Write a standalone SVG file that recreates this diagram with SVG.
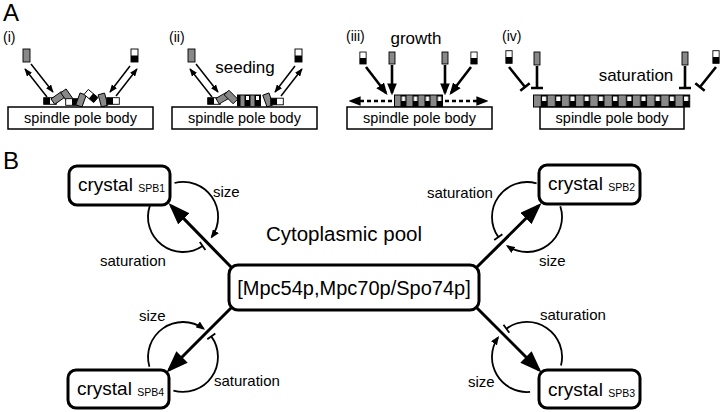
<svg xmlns="http://www.w3.org/2000/svg" xmlns:xlink="http://www.w3.org/1999/xlink" width="720" height="412" viewBox="0 0 720 412">
<style>
text{font-family:"Liberation Sans",Arial,Helvetica,sans-serif;fill:#000}
.pl{font-size:24px}
.sl{font-size:14px}
.spb{font-size:14.5px;text-anchor:middle}
.lab{font-size:17px;text-anchor:middle}
.box{fill:#fff;stroke:#000;stroke-width:1.5}
.thin{stroke:#000;stroke-width:1.5;fill:none}
.thick{stroke:#000;stroke-width:2.6;fill:none}
.dash{stroke:#000;stroke-width:2.6;fill:none;stroke-dasharray:4 3}
.node{fill:#fff;stroke:#000;stroke-width:3}
.nt{font-size:19px}
.sub{font-size:10.5px}
.main{stroke:#000;stroke-width:3;fill:none}
.arc{stroke:#000;stroke-width:1.8;fill:none}
.al{font-size:15px}
.gr{fill:#888;stroke:#000;stroke-width:0.9}
</style>
<defs>
<g id="gv"><rect x="-3.3" y="-6.3" width="6.6" height="12.6" class="gr"/></g>
<g id="bwv"><rect x="-3.3" y="-6.3" width="6.6" height="12.6" fill="#fff" stroke="#000" stroke-width="0.9"/><rect x="-3.3" y="0" width="6.6" height="6.3" fill="#000"/></g>
<pattern id="cr3" x="394.5" y="95" width="12" height="12" patternUnits="userSpaceOnUse"><rect width="6" height="12" fill="#888"/><rect x="6" width="6" height="12" fill="#000"/><rect x="7.3" y="1.5" width="3.4" height="4.5" fill="#fff"/></pattern>
<pattern id="cr4" x="533.5" y="95" width="14.2" height="12" patternUnits="userSpaceOnUse"><rect width="7.1" height="12" fill="#888"/><rect x="7.1" width="7.1" height="12" fill="#000"/><rect x="8.6" y="1.5" width="4.1" height="4.5" fill="#fff"/></pattern>
<marker id="mThin" viewBox="0 0 10 8" refX="9" refY="4" markerWidth="8" markerHeight="6.4" markerUnits="userSpaceOnUse" orient="auto"><path d="M0,0 L10,4 L0,8 z" fill="#000"/></marker>
<marker id="mMid" viewBox="0 0 10 8" refX="8" refY="4" markerWidth="12" markerHeight="9.6" markerUnits="userSpaceOnUse" orient="auto"><path d="M0,0 L10,4 L0,8 z" fill="#000"/></marker>
<marker id="mBig" viewBox="0 0 22 16" refX="18" refY="8" markerWidth="22" markerHeight="16" markerUnits="userSpaceOnUse" orient="auto"><path d="M0,0 L22,8 L0,16 z" fill="#000"/></marker>
<marker id="mSm" viewBox="0 0 10 8" refX="8" refY="4" markerWidth="9" markerHeight="7.2" markerUnits="userSpaceOnUse" orient="auto"><path d="M0,0 L10,4 L0,8 z" fill="#000"/></marker>
</defs>

<g id="panelA">
<text class="pl" x="3" y="21">A</text>

<g id="stage-i">
<text class="sl" x="3" y="42">(i)</text>
<rect class="gr" x="23" y="49" width="7" height="13"/>
<use href="#bwv" transform="translate(134.5,55.5) scale(1.06,1.03)"/>
<path class="thin" d="M47,97 L25,69" marker-end="url(#mThin)"/>
<path class="thin" d="M31,64 L53,92" marker-end="url(#mThin)"/>
<path class="thin" d="M130,66 L110,92" marker-end="url(#mThin)"/>
<path class="thin" d="M116,96 L137,69" marker-end="url(#mThin)"/>
<use href="#bwv" transform="translate(50,101) rotate(90)"/>
<use href="#gv" transform="translate(58,98) rotate(55)"/>
<use href="#gv" transform="translate(67,96) rotate(-35)"/>
<use href="#bwv" transform="translate(72,102) rotate(-90)"/>
<use href="#gv" transform="translate(81,100) rotate(20)"/>
<use href="#bwv" transform="translate(91,96) rotate(-50)"/>
<use href="#gv" transform="translate(103,100) rotate(-15)"/>
<use href="#bwv" transform="translate(113,101) rotate(90)"/>
<rect class="box" x="8" y="107" width="145" height="22"/>
<text class="spb" x="80.5" y="123">spindle pole body</text>
</g>

<g id="stage-ii">
<text class="sl" x="169" y="42">(ii)</text>
<rect class="gr" x="188" y="49" width="7" height="13"/>
<use href="#bwv" transform="translate(298.5,55.5) scale(1.06,1.03)"/>
<text class="lab" x="245" y="73">seeding</text>
<path class="thin" d="M212,97 L190,69" marker-end="url(#mThin)"/>
<path class="thin" d="M196,64 L218,92" marker-end="url(#mThin)"/>
<path class="thin" d="M295,66 L275,92" marker-end="url(#mThin)"/>
<path class="thin" d="M281,96 L302,69" marker-end="url(#mThin)"/>
<use href="#bwv" transform="translate(214,101) rotate(90)"/>
<use href="#gv" transform="translate(223,98) rotate(60)"/>
<use href="#gv" transform="translate(231,97) rotate(-45)"/>
<rect x="237" y="94.5" width="24" height="12" fill="#000"/>
<rect x="240.5" y="95.5" width="4" height="10.5" fill="#888"/>
<rect x="246" y="96" width="3" height="4" fill="#fff"/>
<rect x="250.5" y="95.5" width="4" height="10.5" fill="#888"/>
<rect x="256" y="96" width="3" height="4" fill="#fff"/>
<use href="#gv" transform="translate(268,100) rotate(-20)"/>
<use href="#bwv" transform="translate(277,101.5) rotate(90)"/>
<rect class="box" x="172" y="107" width="145" height="22"/>
<text class="spb" x="244.5" y="123">spindle pole body</text>
</g>

<g id="stage-iii">
<text class="sl" x="346" y="41">(iii)</text>
<text class="lab" x="416" y="44">growth</text>
<use href="#bwv" transform="translate(363,58) scale(0.95,0.95)"/>
<rect class="gr" x="389" y="52" width="6" height="12"/>
<rect class="gr" x="442" y="52" width="6" height="12"/>
<use href="#bwv" transform="translate(474,58) scale(0.95,0.95)"/>
<path class="thick" d="M366,67 L386,93" marker-end="url(#mMid)"/>
<path class="thick" d="M392,65 L392,93" marker-end="url(#mMid)"/>
<path class="thick" d="M445,65 L445,93" marker-end="url(#mMid)"/>
<path class="thick" d="M471,67 L451,93" marker-end="url(#mMid)"/>
<path class="dash" d="M392,101 L351,101" marker-end="url(#mMid)"/>
<path class="dash" d="M445,101 L486,101" marker-end="url(#mMid)"/>
<rect x="394.5" y="95" width="48" height="12" fill="url(#cr3)" stroke="#000" stroke-width="1"/>
<rect class="box" x="347" y="107" width="145" height="22"/>
<text class="spb" x="419.5" y="123">spindle pole body</text>
</g>

<g id="stage-iv">
<text class="sl" x="502" y="41">(iv)</text>
<text class="lab" x="636" y="81">saturation</text>
<use href="#bwv" transform="translate(509,57) scale(0.95,1)"/>
<rect class="gr" x="534" y="52" width="6" height="13"/>
<rect class="gr" x="682" y="52" width="6" height="13"/>
<use href="#bwv" transform="translate(716,57) scale(0.95,1)"/>
<path class="thick" d="M509,67 L525,87 M520.3,90.7 L529.7,83.3"/>
<path class="thick" d="M537,66 L537,88 M531,88 L543,88"/>
<path class="thick" d="M685,66 L685,88 M679,88 L691,88"/>
<path class="thick" d="M716,67 L700,87 M695.3,83.3 L704.7,90.7"/>
<rect x="533.5" y="95" width="156.2" height="12" fill="url(#cr4)" stroke="#000" stroke-width="1"/>
<rect class="box" x="540" y="107" width="144" height="22"/>
<text class="spb" x="612" y="123">spindle pole body</text>
</g>
</g>

<g id="panelB">
<text class="pl" x="3" y="169">B</text>

<g id="connectors">
<path class="main" d="M231.5,267.5 L171.3,205.9" marker-end="url(#mBig)"/>
<path class="main" d="M476.5,267.5 L538.7,205.8" marker-end="url(#mBig)"/>
<path class="main" d="M231.5,307.5 L169.3,369.7" marker-end="url(#mBig)"/>
<path class="main" d="M476.5,307.5 L538.7,369.7" marker-end="url(#mBig)"/>

<path class="arc" d="M174.5,183 A35,35 0 0 1 211.7,237.1" marker-end="url(#mSm)"/>
<path class="arc" d="M149.9,205.6 A35,35 0 0 0 202.6,246 M199.8,241.9 L205.4,250.1"/>
<text class="al" x="213" y="197">size</text>
<text class="al" x="100" y="266">saturation</text>

<path class="arc" d="M536.6,183.4 A35,35 0 0 0 498.3,237.1 M494.2,240 L502.4,234.2"/>
<path class="arc" d="M560.3,206.2 A35,35 0 0 1 507.4,246" marker-end="url(#mSm)"/>
<text class="al" x="427" y="198">saturation</text>
<text class="al" x="539" y="266">size</text>

<path class="arc" d="M149.4,366.7 A35,35 0 0 1 203.6,328.7" marker-end="url(#mSm)"/>
<path class="arc" d="M173.4,390.6 A35,35 0 0 0 211.3,336.4 M207.3,339.3 L215.3,333.5"/>
<text class="al" x="139" y="321">size</text>
<text class="al" x="214" y="386">saturation</text>

<path class="arc" d="M561,365.5 A35,35 0 0 0 506.4,328.7 M503.5,324.7 L509.3,332.7"/>
<path class="arc" d="M530.1,391.9 A35,35 0 0 1 498,337.4" marker-end="url(#mSm)"/>
<text class="al" x="540" y="320">saturation</text>
<text class="al" x="468" y="387">size</text>
</g>

<g id="node-pool">
<text x="344" y="241" font-size="20.5" text-anchor="middle">Cytoplasmic pool</text>
<rect class="node" x="229" y="265" width="250" height="45" rx="9"/>
<text x="354" y="295" font-size="20" text-anchor="middle">[Mpc54p,Mpc70p/Spo74p]</text>
</g>

<g id="node-spb1">
<rect class="node" x="69" y="166" width="101" height="39" rx="8"/>
<text class="nt" x="78" y="191">crystal <tspan class="sub" dy="1">SPB1</tspan></text>
</g>
<g id="node-spb2">
<rect class="node" x="539" y="165" width="101" height="39" rx="8"/>
<text class="nt" x="548" y="190">crystal <tspan class="sub" dy="1">SPB2</tspan></text>
</g>
<g id="node-spb4">
<rect class="node" x="68" y="370" width="101" height="38" rx="8"/>
<text class="nt" x="77" y="395">crystal <tspan class="sub" dy="1">SPB4</tspan></text>
</g>
<g id="node-spb3">
<rect class="node" x="539" y="370" width="101" height="38" rx="8"/>
<text class="nt" x="548" y="396">crystal <tspan class="sub" dy="1">SPB3</tspan></text>
</g>
</g>
</svg>
